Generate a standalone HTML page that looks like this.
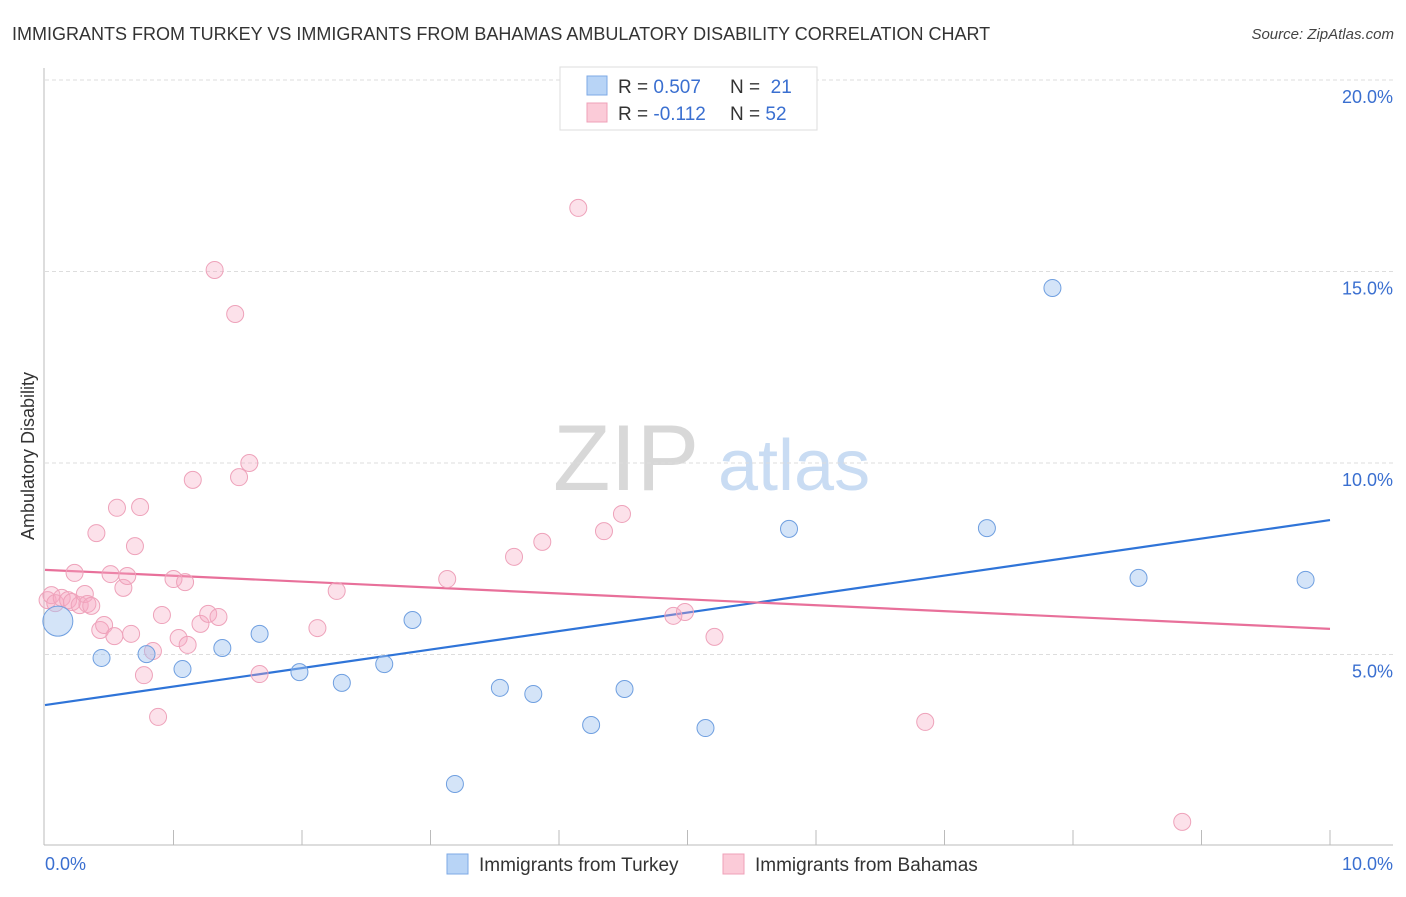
<!DOCTYPE html>
<html><head><meta charset="utf-8"><style>
body{margin:0;background:#fff;font-family:"Liberation Sans",sans-serif;}
svg text{font-family:"Liberation Sans",sans-serif;}
</style></head><body>
<svg id="chart" width="1406" height="892" viewBox="0 0 1406 892" xmlns="http://www.w3.org/2000/svg">
<text x="12" y="40" font-size="18" fill="#333">IMMIGRANTS FROM TURKEY VS IMMIGRANTS FROM BAHAMAS AMBULATORY DISABILITY CORRELATION CHART</text>
<text x="1394" y="39" font-size="15" fill="#444" font-style="italic" text-anchor="end">Source: ZipAtlas.com</text>
<g>
<text x="553" y="490" font-size="94" fill="#d8d8d8" font-family="Liberation Serif,serif">ZIP</text>
<text x="718" y="490" font-size="72" fill="#c9dcf3">atlas</text>
</g>
<text transform="translate(34,456) rotate(-90)" font-size="18" fill="#333" text-anchor="middle">Ambulatory Disability</text>
<g id="grid"></g><g id="axes"></g><g id="lines"></g><g id="pts"></g>
<g>
<rect x="560" y="67" width="257" height="63" fill="#fff" stroke="#ddd"/>
<rect x="587" y="76" width="20" height="19" fill="#b8d4f6" stroke="#7eaae6"/>
<rect x="587" y="103" width="20" height="19" fill="#fbcbd8" stroke="#efa0b8"/>
<text x="618" y="93" font-size="19" fill="#333">R = <tspan fill="#3a6fd0">0.507</tspan></text>
<text x="730" y="93" font-size="19" fill="#333">N = <tspan fill="#3a6fd0">&#160;21</tspan></text>
<text x="618" y="120" font-size="19" fill="#333">R = <tspan fill="#3a6fd0">-0.112</tspan></text>
<text x="730" y="120" font-size="19" fill="#333">N = <tspan fill="#3a6fd0">52</tspan></text>
</g>
<g>
<rect x="447" y="854" width="21" height="20" fill="#b8d4f6" stroke="#7eaae6"/>
<text x="479" y="871" font-size="19" fill="#333">Immigrants from Turkey</text>
<rect x="723" y="854" width="21" height="20" fill="#fbcbd8" stroke="#efa0b8"/>
<text x="755" y="871" font-size="19" fill="#333">Immigrants from Bahamas</text>
</g>
</svg>
<script>
const yTicks=[5,10,15,20];
const yTickLabels=["5.0%","10.0%","15.0%","20.0%"];
const xTickLabels=["0.0%","10.0%"];
const turkeyX=[0.10,0.44,0.79,1.07,1.38,1.67,1.98,2.31,2.64,2.86,3.19,3.54,3.80,4.25,4.51,5.14,5.79,7.33,7.84,8.51,9.81];
const turkeyY=[5.87,4.91,5.01,4.62,5.17,5.54,4.54,4.26,4.75,5.90,1.62,4.13,3.97,3.16,4.10,3.08,8.28,8.30,14.57,7.00,6.95];
const bahamasX=[0.02,0.05,0.08,0.13,0.18,0.21,0.23,0.27,0.31,0.33,0.36,0.40,0.43,0.46,0.51,0.54,0.56,0.61,0.64,0.67,0.70,0.74,0.77,0.84,0.88,0.91,1.00,1.04,1.09,1.11,1.15,1.21,1.27,1.32,1.35,1.48,1.51,1.59,1.67,2.12,2.27,3.13,3.65,3.87,4.15,4.35,4.49,4.89,4.98,5.21,6.85,8.85];
const bahamasY=[6.42,6.55,6.34,6.48,6.42,6.37,7.13,6.29,6.58,6.32,6.27,8.17,5.64,5.77,7.10,5.48,8.83,6.74,7.05,5.54,7.83,8.85,4.46,5.09,3.37,6.03,6.97,5.43,6.89,5.25,9.56,5.80,6.06,15.04,5.98,13.89,9.63,10.0,4.49,5.69,6.66,6.97,7.55,7.94,16.66,8.22,8.67,6.01,6.11,5.46,3.24,0.63];
const trendTurkey=[3.68,8.51];
const trendBahamas=[7.21,5.67];
const xMax=10;
const NS="http://www.w3.org/2000/svg";
const X0=45,X1=1330,Y0=846,YS=38.3;
function sx(v){return X0+(X1-X0)*v/xMax;}
function sy(v){return Y0-v*YS;}
function mk(tag,attrs,parent){const e=document.createElementNS(NS,tag);for(const k in attrs)e.setAttribute(k,attrs[k]);document.getElementById(parent).appendChild(e);return e;}
yTicks.forEach((t,i)=>{
 const g=mk('line',{x1:45,x2:1393,y1:sy(t),y2:sy(t),stroke:'#ddd','stroke-dasharray':'4,3'},'grid');
 
 
 const l=mk('text',{x:1393,y:sy(t)+23,'font-size':18,fill:'#3a6fd0','text-anchor':'end'},'grid');
 l.textContent=yTickLabels[i];
 
 
});
const ax=mk('line',{x1:44,x2:44,y1:68,y2:845,stroke:'#bbb'},'axes');


const bx=mk('line',{x1:44,x2:1393,y1:845,y2:845,stroke:'#bbb'},'axes');


for(let k=1;k<=10;k++){
 const t=mk('line',{x1:sx(k),x2:sx(k),y1:830,y2:845,stroke:'#bbb'},'axes');
 
 
}
const xl0=mk('text',{x:45,y:870,'font-size':18,fill:'#3a6fd0'},'axes');xl0.textContent=xTickLabels[0];


const xl1=mk('text',{x:1393,y:870,'font-size':18,fill:'#3a6fd0','text-anchor':'end'},'axes');xl1.textContent=xTickLabels[1];


bahamasX.forEach((x,i)=>{
 const c=mk('circle',{cx:sx(x),cy:sy(bahamasY[i]),r:8.5,fill:'rgba(246,170,195,0.35)',stroke:'#eea2ba','stroke-width':1},'pts');
 
 
});
turkeyX.forEach((x,i)=>{
 const c=mk('circle',{cx:sx(x),cy:sy(turkeyY[i]),r:i===0?15:8.5,fill:'rgba(160,195,240,0.45)',stroke:'#6f9fe0','stroke-width':1},'pts');
 
 
});
const lt=mk('line',{x1:sx(0),x2:sx(xMax),y1:sy(trendTurkey[0]),y2:sy(trendTurkey[1]),stroke:'#2f74d8','stroke-width':2.2},'lines');


const lb=mk('line',{x1:sx(0),x2:sx(xMax),y1:sy(trendBahamas[0]),y2:sy(trendBahamas[1]),stroke:'#e8709a','stroke-width':2.2},'lines');


</script>
</body></html>
